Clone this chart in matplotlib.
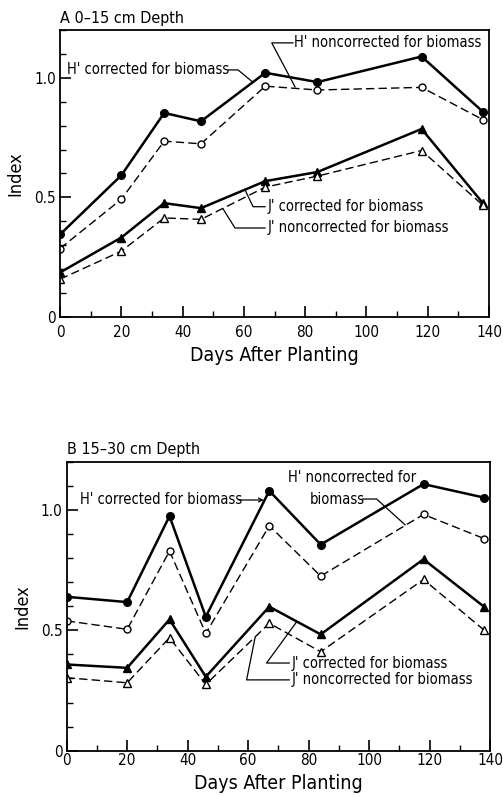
import numpy as np
import matplotlib
matplotlib.use("Agg")
import matplotlib.pyplot as plt
from matplotlib.ticker import MultipleLocator, FixedLocator

plt.rcParams['font.family'] = ['DejaVu Sans']
plt.rcParams['font.stretch'] = 'condensed'

# dias de amostragem
dias = [0, 20, 34, 46, 67, 84, 118, 138]

# A: 0-15 cm
a_h_corr = [0.345, 0.592, 0.853, 0.818, 1.021, 0.982, 1.089, 0.858]
a_h_nao = [0.286, 0.492, 0.735, 0.724, 0.965, 0.949, 0.960, 0.825]
a_j_corr = [0.186, 0.332, 0.476, 0.455, 0.568, 0.606, 0.786, 0.476]
a_j_nao = [0.158, 0.275, 0.414, 0.408, 0.543, 0.589, 0.696, 0.467]

# B: 15-30 cm
b_h_corr = [0.639, 0.617, 0.974, 0.556, 1.079, 0.856, 1.107, 1.051]
b_h_nao = [0.539, 0.504, 0.829, 0.487, 0.934, 0.725, 0.981, 0.881]
b_j_corr = [0.358, 0.344, 0.545, 0.307, 0.598, 0.483, 0.795, 0.598]
b_j_nao = [0.303, 0.282, 0.469, 0.275, 0.529, 0.411, 0.711, 0.501]

fig = plt.figure(figsize=(5.03, 7.97), dpi=100)
ax_a = fig.add_axes([0.1193, 0.6023, 0.8529, 0.3601])
ax_b = fig.add_axes([0.1326, 0.0581, 0.8416, 0.3626])

TAM = 10.5


def desenha_series(ax, hc, hn, jc, jn):
    ax.plot(dias, hc, color='black', lw=1.8, marker='o', ms=5.5, mfc='black', mec='black')
    ax.plot(dias, hn, color='black', lw=1.0, dashes=[6, 3], marker='o', ms=5, mfc='white', mec='black', mew=1.0)
    ax.plot(dias, jc, color='black', lw=1.8, marker='^', ms=6, mfc='black', mec='black')
    ax.plot(dias, jn, color='black', lw=1.0, dashes=[6, 3], marker='^', ms=5.5, mfc='white', mec='black', mew=1.0)


def formata_eixo(ax, titulo, pad_x, pad_lbl):
    ax.set_xlim(0, 140)
    ax.set_ylim(0, 1.2)
    ax.xaxis.set_major_locator(MultipleLocator(20))
    ax.xaxis.set_minor_locator(MultipleLocator(10))
    ax.yaxis.set_major_locator(FixedLocator([0, 0.5, 1.0]))
    ax.yaxis.set_minor_locator(MultipleLocator(0.1))
    ax.set_yticklabels(['0', '0.5', '1.0'])
    ax.tick_params(axis='both', which='major', direction='in', length=8, width=1.2, labelsize=11)
    ax.tick_params(axis='both', which='minor', direction='in', length=4, width=1.0)
    ax.tick_params(axis='x', pad=pad_x)
    ax.tick_params(axis='y', pad=3)
    for s in ax.spines.values():
        s.set_linewidth(1.3)
    ax.set_xlabel('Days After Planting', fontsize=14, labelpad=pad_lbl)
    ax.set_ylabel('Index', fontsize=13, labelpad=7)
    ax.text(0.0, 1.015, titulo, transform=ax.transAxes, fontsize=11.5, ha='left', va='bottom')


def rotulo(ax, texto, xy, caminho):
    ax.text(xy[0], xy[1], texto, fontsize=TAM, ha='left', va='center')
    xs = [p[0] for p in caminho]
    ys = [p[1] for p in caminho]
    ax.plot(xs, ys, color='black', lw=0.9, clip_on=False)


desenha_series(ax_a, a_h_corr, a_h_nao, a_j_corr, a_j_nao)
formata_eixo(ax_a, 'A 0\u201315 cm Depth', 6, 4)
rotulo(ax_a, "H' corrected for biomass", (2.3, 1.033), [(55.0, 1.033), (58.1, 1.033), (62.6, 0.985)])
rotulo(ax_a, "H' noncorrected for biomass", (76.5, 1.146), [(76.0, 1.146), (69.1, 1.146), (76.7, 0.962)])
rotulo(ax_a, "J' corrected for biomass", (67.6, 0.461), [(66.9, 0.461), (63.0, 0.461), (60.4, 0.531)])
rotulo(ax_a, "J' noncorrected for biomass", (67.6, 0.372), [(66.9, 0.372), (57.1, 0.372), (53.2, 0.452)])

desenha_series(ax_b, b_h_corr, b_h_nao, b_j_corr, b_j_nao)
formata_eixo(ax_b, 'B 15\u201330 cm Depth', 2, 4)
ax_b.text(4.4, 1.041, "H' corrected for biomass", fontsize=TAM, ha='left', va='center')
ax_b.annotate('', xy=(65.2, 1.041), xytext=(56.8, 1.041),
              arrowprops=dict(arrowstyle='->', lw=0.9, color='black', shrinkA=0, shrinkB=0,
                              mutation_scale=7))
ax_b.text(73.2, 1.133, "H' noncorrected for", fontsize=TAM, ha='left', va='center')
rotulo(ax_b, "biomass", (80.4, 1.045), [(97.8, 1.045), (102.5, 1.045), (111.9, 0.938)])
rotulo(ax_b, "J' corrected for biomass", (74.4, 0.364), [(73.6, 0.364), (66.1, 0.364), (76.1, 0.536)])
rotulo(ax_b, "J' noncorrected for biomass", (74.4, 0.294), [(73.6, 0.294), (59.5, 0.294), (62.3, 0.470)])

fig.savefig('out.png', dpi=100)
